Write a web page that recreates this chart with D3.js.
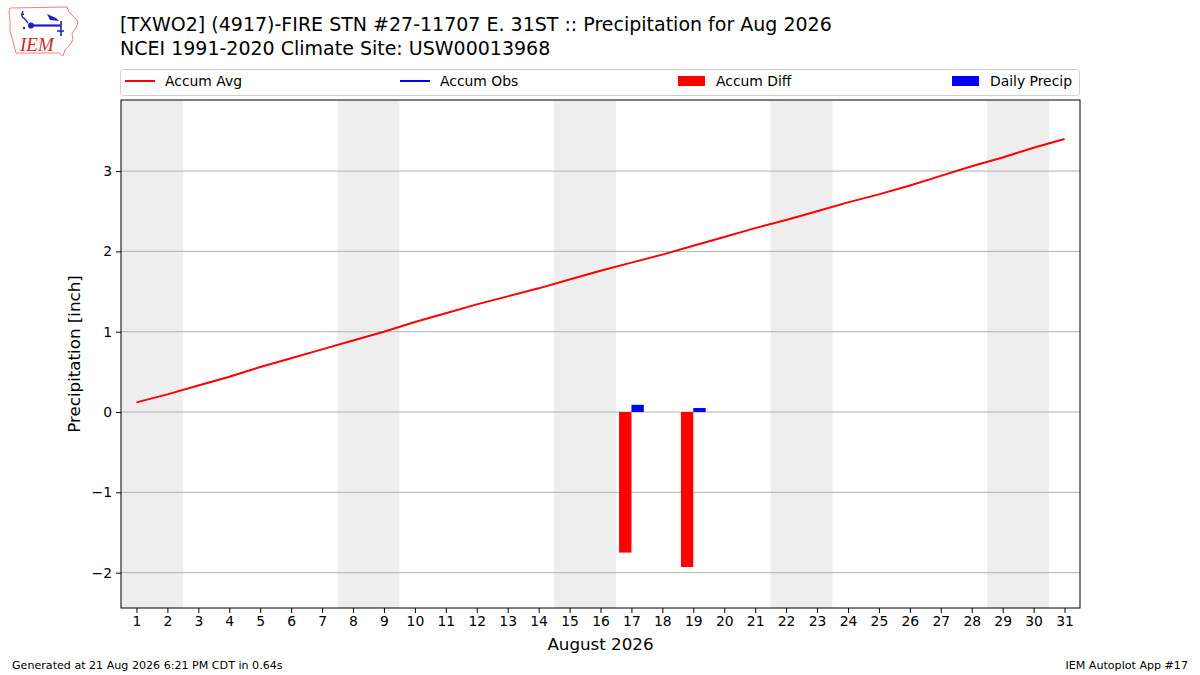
<!DOCTYPE html>
<html>
<head>
<meta charset="utf-8">
<script src="https://cdn.jsdelivr.net/npm/d3@7"></script>
<style>
  body { margin: 0; background: #fff; }
  svg { display: block; font-family: "DejaVu Sans", sans-serif; }
</style>
</head>
<body>
<svg id="chart" width="1200" height="675"></svg>
<script>
// ---- Data ----
const days = d3.range(1, 32);
const accumAvg = [0.12,0.22,0.33,0.44,0.56,0.67,0.78,0.89,1.00,1.12,1.23,1.34,1.44,1.54,1.65,1.76,1.86,1.96,2.07,2.18,2.29,2.39,2.50,2.61,2.71,2.82,2.94,3.06,3.17,3.29,3.40];
const obsDays = [17, 19];
const dailyPrecip = [0.09, 0.05];
const accumObs = [0.09, 0.14];
const accumDiff = [-1.75, -1.93];
const weekendStarts = [1, 8, 15, 22, 29];
const yTicks = [-2, -1, 0, 1, 2, 3];
const titleLines = ["[TXWO2] (4917)-FIRE STN #27-11707 E. 31ST :: Precipitation for Aug 2026",
                    "NCEI 1991-2020 Climate Site: USW00013968"];
const legendItems = [
  {label: "Accum Avg", type: "line", color: "red"},
  {label: "Accum Obs", type: "line", color: "blue"},
  {label: "Accum Diff", type: "rect", color: "red"},
  {label: "Daily Precip", type: "rect", color: "blue"}
];

// ---- Layout ----
const svg = d3.select("#chart");
const L = 121, R = 1080, T = 100, B = 608;
const x = d3.scaleLinear().domain([0.5, 31.5]).range([L, R]);
const y = d3.scaleLinear().domain([-2.44, 3.885]).range([B, T]);

// weekend shading
svg.append("g").selectAll("rect").data(weekendStarts).join("rect")
  .attr("x", d => x(d - 0.5)).attr("width", d => x(d + 1.5) - x(d - 0.5))
  .attr("y", T).attr("height", B - T).attr("fill", "#eeeeee");

// grid
svg.append("g").selectAll("line").data(yTicks).join("line")
  .attr("x1", L).attr("x2", R).attr("y1", d => y(d)).attr("y2", d => y(d))
  .attr("stroke", "#b0b0b0").attr("stroke-width", 1);

// accum avg line
svg.append("path").datum(days.map((d, i) => [d, accumAvg[i]]))
  .attr("fill", "none").attr("stroke", "red").attr("stroke-width", 2)
  .attr("d", d3.line().x(d => x(d[0])).y(d => y(d[1])));

// accum obs line (gaps => nothing drawn for isolated points)
const obsSeries = days.map(d => { const k = obsDays.indexOf(d); return [d, k >= 0 ? accumObs[k] : null]; });
svg.append("path").datum(obsSeries)
  .attr("fill", "none").attr("stroke", "blue").attr("stroke-width", 2)
  .attr("d", d3.line().defined(d => d[1] !== null).x(d => x(d[0])).y(d => y(d[1])));

// accum diff bars (left of day center)
svg.append("g").selectAll("rect").data(obsDays.map((d, i) => [d, accumDiff[i]])).join("rect")
  .attr("x", d => x(d[0] - 0.4)).attr("width", d => x(d[0]) - x(d[0] - 0.4))
  .attr("y", d => y(Math.max(0, d[1]))).attr("height", d => Math.abs(y(d[1]) - y(0)))
  .attr("fill", "red");

// daily precip bars (right of day center)
svg.append("g").selectAll("rect").data(obsDays.map((d, i) => [d, dailyPrecip[i]])).join("rect")
  .attr("x", d => x(d[0])).attr("width", d => x(d[0] + 0.4) - x(d[0]))
  .attr("y", d => y(d[1])).attr("height", d => y(0) - y(d[1]))
  .attr("fill", "blue");

// axes
const xAxis = d3.axisBottom(x).tickValues(days).tickSize(5).tickPadding(3).tickFormat(d3.format("d"));
const gx = svg.append("g").attr("transform", `translate(0,${B})`).call(xAxis);
const yAxis = d3.axisLeft(y).tickValues(yTicks).tickSize(5).tickPadding(4).tickFormat(d => d < 0 ? "\u2212" + Math.abs(d) : d);
const gy = svg.append("g").attr("transform", `translate(${L},0)`).call(yAxis);
[gx, gy].forEach(g => {
  g.select(".domain").remove();
  g.selectAll("text").attr("font-family", "DejaVu Sans").attr("font-size", 13.9).attr("fill", "#000");
  g.selectAll("line").attr("stroke", "#000");
});

// frame
svg.append("rect").attr("x", L).attr("y", T).attr("width", R - L).attr("height", B - T)
  .attr("fill", "none").attr("stroke", "#000").attr("stroke-width", 1);

// axis labels
svg.append("text").attr("x", (L + R) / 2).attr("y", 650).attr("text-anchor", "middle")
  .attr("font-size", 16.7).text("August 2026");
svg.append("text").attr("transform", `translate(80,${(T + B) / 2}) rotate(-90)`)
  .attr("text-anchor", "middle").attr("font-size", 16.7).text("Precipitation [inch]");

// title
svg.append("g").selectAll("text").data(titleLines).join("text")
  .attr("x", 120).attr("y", (d, i) => 31 + i * 24).attr("font-size", 19).text(d => d);

// legend
svg.append("rect").attr("x", 120.5).attr("y", 69.5).attr("width", 959).attr("height", 26)
  .attr("rx", 3).attr("fill", "#fff").attr("stroke", "#d0d0d0");
const legX = [125, 400, 678, 952];
const lg = svg.append("g").selectAll("g").data(legendItems).join("g")
  .attr("transform", (d, i) => `translate(${legX[i]},81)`);
lg.filter(d => d.type === "line").append("line")
  .attr("x1", 0).attr("x2", 30).attr("y1", 0).attr("y2", 0).attr("stroke", d => d.color).attr("stroke-width", 2);
lg.filter(d => d.type === "rect").append("rect")
  .attr("x", 0).attr("y", -5).attr("width", 27).attr("height", 10).attr("fill", d => d.color);
lg.append("text").attr("x", d => d.type === "line" ? 40 : 38).attr("y", 5)
  .attr("font-size", 13.9).text(d => d.label);

// footer
svg.append("text").attr("x", 12).attr("y", 669).attr("font-size", 11.1).text("Generated at 21 Aug 2026 6:21 PM CDT in 0.64s");
svg.append("text").attr("x", 1188).attr("y", 669).attr("text-anchor", "end").attr("font-size", 11.1).text("IEM Autoplot App #17");

// logo
const logo = svg.append("g");
logo.append("path")
  .attr("d", "M10,8 L67,7 L69,12 L74,17 L78,22 L76,28 L72,33 L73,40 L69,46 L65,50 L63,56 L59,53 L16,53 L13,42 L10,30 L10,20 L9,12 Z")
  .attr("fill", "none").attr("stroke", "#f08080").attr("stroke-width", 1);
logo.append("path").attr("d", "M30,25.5 L61,25.5").attr("stroke", "#2020c0").attr("stroke-width", 2.2);
logo.append("circle").attr("cx", 31).attr("cy", 25.5).attr("r", 3).attr("fill", "#2020c0");
logo.append("path").attr("d", "M23,11 Q20,17 25,19 M25,19 L28,23 M21,15 L24,14").attr("fill", "none").attr("stroke", "#2020c0").attr("stroke-width", 1.4);
logo.append("path").attr("d", "M47,14 L56,18 L59,21 L50,20 Z").attr("fill", "#2020c0");
logo.append("path").attr("d", "M61,21 L61,36 M57,31 L64,31").attr("stroke", "#2020c0").attr("stroke-width", 1.6);
logo.append("circle").attr("cx", 24).attr("cy", 28).attr("r", 1.2).attr("fill", "#2020c0");
logo.append("text").attr("x", 20).attr("y", 51).attr("font-family", "Liberation Serif, serif").attr("font-style", "italic")
  .attr("font-size", 19).attr("fill", "#d02828").text("IEM");
</script>
</body>
</html>
